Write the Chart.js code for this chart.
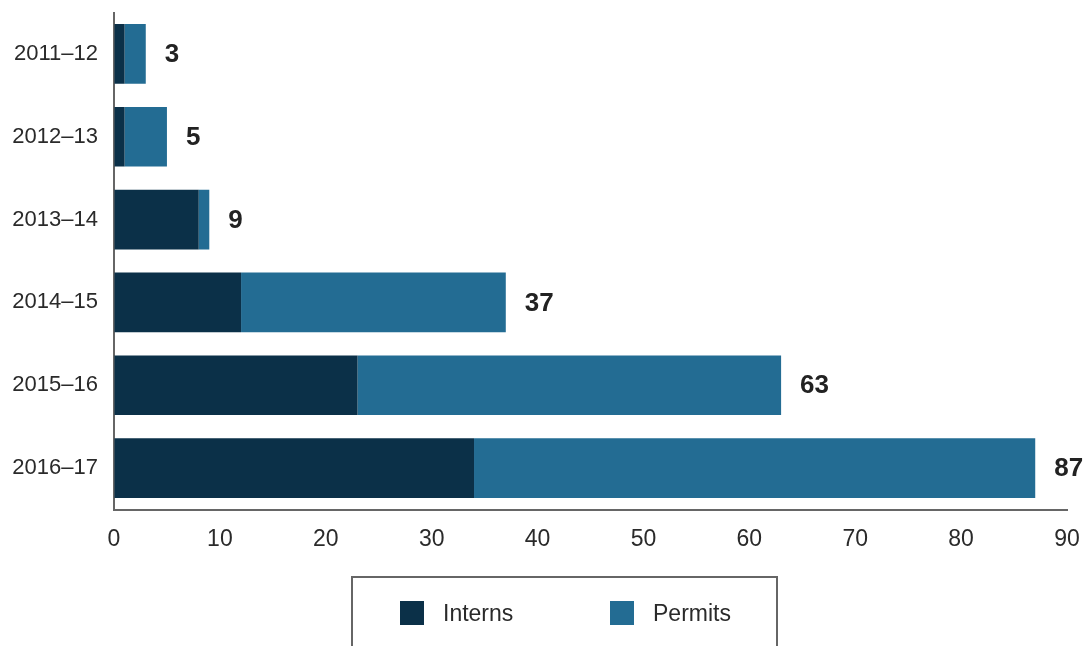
<!DOCTYPE html>
<html>
<head>
<meta charset="utf-8">
<script src="https://cdn.jsdelivr.net/npm/chart.js@4/dist/chart.umd.min.js"></script>
<style>
  body{margin:0;background:#fff;font-family:"Liberation Sans",Arial,sans-serif;}
  #wrap{position:relative;width:1087px;height:646px;overflow:hidden;}
  #legend{position:absolute;left:351px;top:576px;width:427px;height:100px;border:2px solid #666;border-bottom:none;box-sizing:border-box;}
  .item{position:absolute;top:23px;font-size:23px;color:#2a2a2a;line-height:24px;}
  .sw{display:inline-block;width:24px;height:24px;vertical-align:top;margin-right:19px;}
</style>
</head>
<body>
<div id="wrap">
  <canvas id="myCanvas" width="1087" height="646"></canvas>
  <div id="legend">
    <div class="item" style="left:47px"><span class="sw" style="background:#0b3048"></span>Interns</div>
    <div class="item" style="left:257px"><span class="sw" style="background:#236c93"></span>Permits</div>
  </div>
</div>
<script>
var nam=['2011–12','2012–13','2013–14','2014–15','2015–16','2016–17'];
var interns=[1,1,8,12,23,34];
var permits=[2,4,1,25,40,53];
var tong=[3,5,9,37,63,87];

var nhanTong={
  id:'nhanTong',
  afterDatasetsDraw:function(chart){
    var ctx=chart.ctx;
    var meta=chart.getDatasetMeta(1);
    ctx.save();
    ctx.font='bold 26px "Liberation Sans", Arial, sans-serif';
    ctx.fillStyle='#222';
    ctx.textBaseline='middle';
    ctx.textAlign='left';
    for(var i=0;i<tong.length;i++){
      var bar=meta.data[i];
      ctx.fillText(tong[i],bar.x+19,bar.y+1);
    }
    ctx.restore();
  }
};

var ctx=document.getElementById('myCanvas');
new Chart(ctx,{
  type:'bar',
  data:{
    labels:nam,
    datasets:[
      {label:'Interns',data:interns,backgroundColor:'#0b3048'},
      {label:'Permits',data:permits,backgroundColor:'#236c93'}
    ]
  },
  options:{
    indexAxis:'y',
    responsive:false,
    animation:false,
    layout:{padding:{top:12.5,right:20,left:0,bottom:0}},
    datasets:{bar:{barPercentage:0.72,categoryPercentage:1}},
    plugins:{legend:{display:false},tooltip:{enabled:false}},
    scales:{
      x:{
        stacked:true,min:0,max:90,
        ticks:{stepSize:10,color:'#2a2a2a',padding:16,font:{size:23,family:'"Liberation Sans", Arial, sans-serif'}},
        grid:{drawOnChartArea:false,drawTicks:false},
        border:{color:'#666',width:2},
        afterFit:function(s){s.height=136.5;s.paddingLeft=0;s.paddingRight=0;}
      },
      y:{
        stacked:true,
        ticks:{color:'#2a2a2a',padding:16,font:{size:22,family:'"Liberation Sans", Arial, sans-serif'}},
        grid:{drawOnChartArea:false,drawTicks:false},
        border:{color:'#666',width:2},
        afterFit:function(s){s.width=114;s.paddingTop=0;s.paddingBottom=0;}
      }
    }
  },
  plugins:[nhanTong]
});
</script>
</body>
</html>
